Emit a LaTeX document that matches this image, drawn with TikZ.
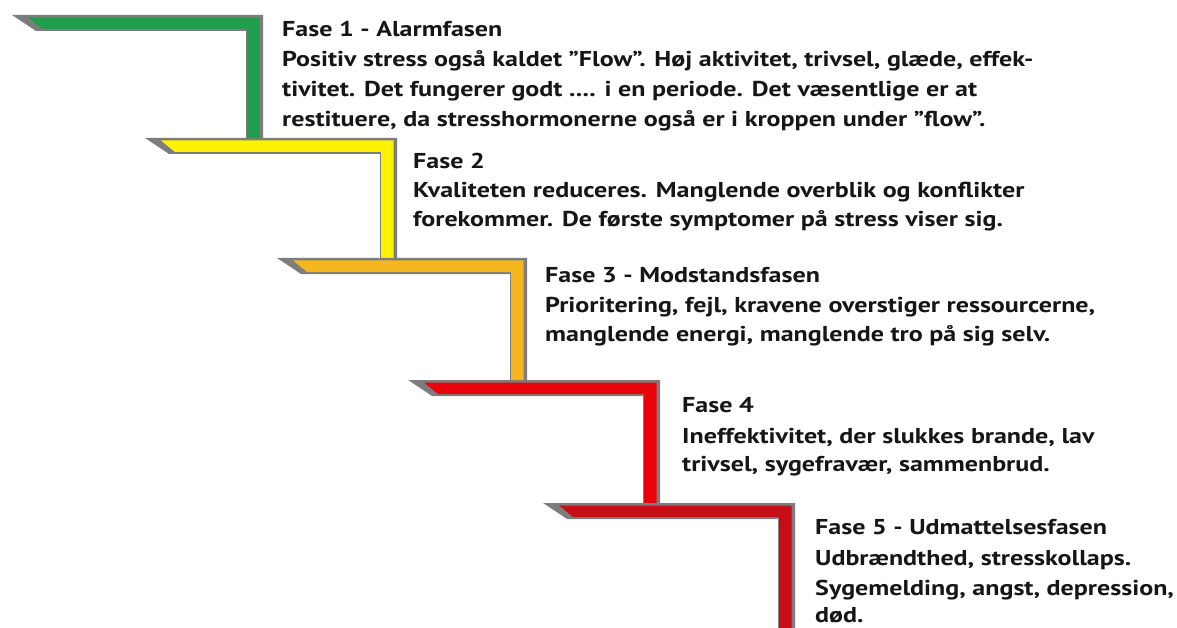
\documentclass[tikz,border=0pt]{standalone}
\usepackage{fontspec}
\setmainfont{PT Sans}[BoldFont={PT Sans Bold},BoldFeatures={FakeStretch=1.21}]
\definecolor{stairgrey}{RGB}{125,125,125}
\definecolor{st1}{RGB}{32,158,78}
\definecolor{st2}{RGB}{255,242,0}
\definecolor{st3}{RGB}{245,182,32}
\definecolor{st4}{RGB}{232,4,10}
\definecolor{st5}{RGB}{198,14,22}
\definecolor{txt}{RGB}{22,22,22}
% one step: #1 = left tip x, #2 = top y, #3 = right edge x, #4 = lower end y, #5 = colour
\newcommand{\stairstep}[5]{%
  \fill[stairgrey] (#1,#2) -- (#3,#2) -- (#3,#4) -- (#3-17,#4) -- (#3-17,#2+16)
        -- (#1+24,#2+16) -- cycle;
  \fill[#5] (#1+16,#2+2.5) -- (#3-3.5,#2+2.5) -- (#3-3.5,#4) -- (#3-16,#4)
        -- (#3-16,#2+14) -- (#1+30,#2+14) -- cycle;
}
\begin{document}
\begin{tikzpicture}[x=1pt,y=-1pt,
    line/.style={anchor=base west,inner sep=0pt,font=\bfseries\fontsize{21.5}{26}\selectfont,text=txt}]
  \useasboundingbox[fill=white] (0,0) rectangle (1177,628);

  % the staircase, top step first so each lower step covers the riser above it
  \stairstep{12}{15}{263}{138}{st1}
  \stairstep{145}{138}{397}{258}{st2}
  \stairstep{277}{258}{527}{380}{st3}
  \stairstep{408}{380}{660}{503}{st4}
  \stairstep{543}{503}{795}{640}{st5}

  % phase 1
  \node[line] (p1t) at (282,37)  {Fase 1 - Alarmfasen};
  \node[line] (p1a) at (282,67)  {Positiv stress også kaldet ”Flow”. Høj aktivitet, trivsel, glæde, effek-};
  \node[line] (p1b) at (282,97)  {tivitet. Det fungerer godt .... i en periode. Det væsentlige er at};
  \node[line] (p1c) at (282,127) {restituere, da stresshormonerne også er i kroppen under ”flow”.};
  % phase 2
  \node[line] (p2t) at (413,169) {Fase 2};
  \node[line] (p2a) at (413,198) {Kvaliteten reduceres. Manglende overblik og konflikter};
  \node[line] (p2b) at (413,227) {forekommer. De første symptomer på stress viser sig.};
  % phase 3
  \node[line] (p3t) at (545,283) {Fase 3 - Modstandsfasen};
  \node[line] (p3a) at (545,312) {Prioritering, fejl, kravene overstiger ressourcerne,};
  \node[line] (p3b) at (545,341) {manglende energi, manglende tro på sig selv.};
  % phase 4
  \node[line] (p4t) at (682,412) {Fase 4};
  \node[line] (p4a) at (682,443) {Ineffektivitet, der slukkes brande, lav};
  \node[line] (p4b) at (682,471) {trivsel, sygefravær, sammenbrud.};
  % phase 5
  \node[line] (p5t) at (815,534) {Fase 5 - Udmattelsesfasen};
  \node[line] (p5a) at (815,565) {Udbrændthed, stresskollaps.};
  \node[line] (p5b) at (815,595) {Sygemelding, angst, depression,};
  \node[line] (p5c) at (815,622) {død.};
\end{tikzpicture}
\end{document}
